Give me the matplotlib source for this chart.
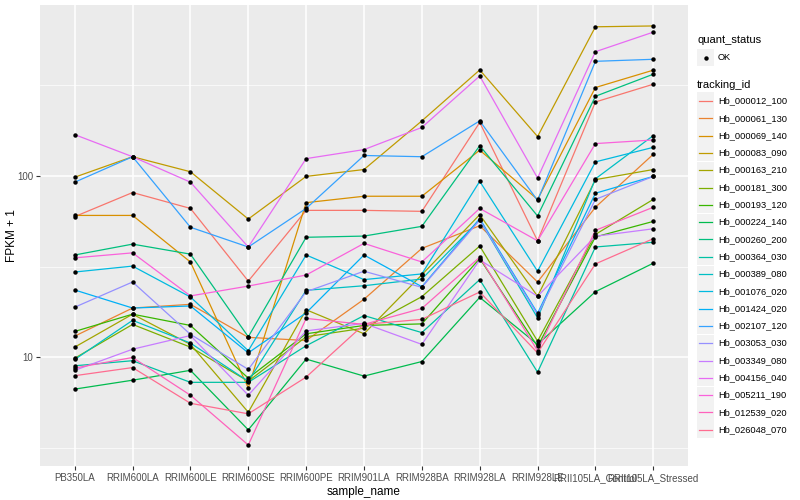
import numpy as np
import matplotlib
matplotlib.use('Agg')
import matplotlib.pyplot as plt
from matplotlib.patches import Rectangle
from matplotlib.lines import Line2D

plt.rcParams['font.family'] = ['Liberation Sans', 'DejaVu Sans']

# samples on the x axis
samples = ['PB350LA', 'RRIM600LA', 'RRIM600LE', 'RRIM600SE', 'RRIM600PE', 'RRIM901LA',
           'RRIM928BA', 'RRIM928LA', 'RRIM928LE', 'RRII105LA_Control', 'RRII105LA_Stressed']

tracking_ids = ['Hb_000012_100', 'Hb_000061_130', 'Hb_000069_140', 'Hb_000083_090', 'Hb_000163_210',
                'Hb_000181_300', 'Hb_000193_120', 'Hb_000224_140', 'Hb_000260_200', 'Hb_000364_030',
                'Hb_000389_080', 'Hb_001076_020', 'Hb_001424_020', 'Hb_002107_120', 'Hb_003053_030',
                'Hb_003349_080', 'Hb_004156_040', 'Hb_005211_190', 'Hb_012539_020', 'Hb_026048_070']

# ggplot default hue palette for 20 levels
colors = ['#F8766D', '#EA8331', '#D89000', '#C09B00', '#A3A500', '#7CAE00', '#39B600', '#00BB4E',
          '#00BF7D', '#00C1A3', '#00BFC4', '#00BAE0', '#00B0F6', '#35A2FF', '#9590FF', '#C77CFF',
          '#E76BF3', '#FA62DB', '#FF62BC', '#FF6C90']

# FPKM + 1 per gene (rows follow tracking_ids, columns follow samples)
fpkm = [
    [59.5, 80.7, 66.0, 26.3, 64.4, 64.4, 63.6, 196, 43.8, 254, 318],
    [13.1, 18.7, 19.6, 12.9, 12.4, 20.9, 39.8, 53.0, 26.0, 67.0, 131],
    [60.4, 60.4, 33.5, 6.8, 71.0, 77.0, 77.0, 138, 74.0, 305, 380],
    [98.0, 127, 105, 57.7, 99.0, 108, 200, 381, 164, 658, 665],
    [11.4, 17.3, 11.8, 5.0, 18.3, 13.5, 28.5, 61.0, 21.7, 95.0, 108],
    [9.9, 15.2, 11.4, 7.4, 13.0, 14.5, 21.6, 41.0, 12.3, 47.5, 74.0],
    [13.9, 17.3, 15.0, 7.7, 13.5, 15.0, 15.3, 35.0, 11.5, 46.0, 56.0],
    [6.7, 7.5, 8.5, 4.0, 9.8, 7.9, 9.5, 21.4, 11.8, 23.0, 33.0],
    [36.6, 42.0, 37.0, 13.0, 45.8, 46.5, 52.6, 146, 60.0, 273, 361],
    [9.0, 9.6, 7.3, 7.3, 11.6, 17.0, 13.7, 26.8, 8.3, 40.5, 43.0],
    [9.75, 16.0, 12.0, 7.4, 23.4, 24.8, 27.0, 57.0, 16.5, 96.0, 166],
    [29.5, 31.8, 21.5, 10.9, 36.6, 26.8, 28.8, 93.0, 29.8, 119, 143],
    [23.5, 18.7, 19.2, 10.6, 17.6, 36.6, 24.5, 58.0, 17.5, 80.0, 99.0],
    [92.0, 127, 52.0, 40.5, 66.0, 129, 127, 200, 73.0, 425, 436],
    [18.9, 26.0, 13.4, 8.6, 23.0, 29.8, 24.3, 57.0, 17.2, 74.0, 99.0],
    [8.5, 11.1, 13.2, 6.2, 14.0, 15.4, 11.8, 34.4, 21.7, 46.4, 51.0],
    [168, 127, 92.0, 40.5, 124, 139, 184, 353, 97.0, 480, 615],
    [35.3, 37.6, 21.8, 24.7, 28.4, 42.4, 33.5, 66.0, 43.8, 150, 157],
    [8.75, 10.0, 6.2, 3.3, 16.4, 15.2, 18.6, 35.6, 10.9, 50.0, 67.0],
    [7.94, 8.8, 5.6, 4.9, 7.8, 15.2, 16.2, 22.9, 10.6, 32.7, 45.0],
]

fig = plt.figure(figsize=(8, 5), dpi=100)
ax = fig.add_axes([0.05, 0.068, 0.81, 0.922])
ax.set_facecolor('#EBEBEB')

x = np.arange(len(samples))
for vals, col in zip(fpkm, colors):
    ax.plot(x, vals, color=col, lw=0.9, zorder=2)
for vals in fpkm:
    ax.plot(x, vals, 'o', color='black', ms=3.2, zorder=3, markeredgewidth=0)

ax.set_yscale('log')
lo, hi = np.log10(np.min(fpkm)), np.log10(np.max(fpkm))
pad = (hi - lo) * 0.05
ax.set_ylim(10 ** (lo - pad), 10 ** (hi + pad))
ax.set_xlim(-0.6, len(samples) - 0.4)

ax.set_yticks([10, 100])
ax.set_yticklabels(['10', '100'])
ax.yaxis.set_minor_locator(matplotlib.ticker.FixedLocator([10 ** 0.5, 10 ** 1.5, 10 ** 2.5]))
ax.yaxis.set_minor_formatter(matplotlib.ticker.NullFormatter())
ax.set_xticks(x)
ax.set_xticklabels(samples)

ax.grid(True, which='major', color='white', lw=1.1, zorder=0)
ax.grid(True, which='minor', axis='y', color='white', lw=0.5, zorder=0)
ax.set_axisbelow(True)
for s in ax.spines.values():
    s.set_visible(False)
ax.tick_params(axis='both', which='major', length=3, color='#333333', labelsize=7, labelcolor='#4D4D4D', pad=2)
ax.tick_params(axis='y', which='minor', length=0)

ax.set_xlabel('sample_name', fontsize=8.5, labelpad=2)
ax.set_ylabel('FPKM + 1', fontsize=8.5)
ax.yaxis.set_label_coords(-0.034, 0.5)

# legends drawn in figure pixels
W, H = 800, 500
def fx(px):
    return px / W
def fy(py):
    return 1 - py / H

fig.text(fx(697), fy(40), 'quant_status', fontsize=8, va='center', ha='left')
fig.patches.append(Rectangle((fx(697), fy(66)), 17 / W, 17 / H, transform=fig.transFigure,
                             facecolor='#F2F2F2', edgecolor='none'))
fig.lines.append(Line2D([fx(705.5)], [fy(57.5)], transform=fig.transFigure, marker='o',
                        color='black', ms=3.2, markeredgewidth=0))
fig.text(fx(718), fy(57.5), 'OK', fontsize=6.7, va='center', ha='left')

fig.text(fx(697), fy(85), 'tracking_id', fontsize=8, va='center', ha='left')
step = 17.3
for i, (tid, col) in enumerate(zip(tracking_ids, colors)):
    cy = 101 + i * step
    fig.patches.append(Rectangle((fx(697), fy(cy + 8.5)), 17 / W, 17 / H, transform=fig.transFigure,
                                 facecolor='#F2F2F2', edgecolor='none'))
    fig.lines.append(Line2D([fx(699), fx(712)], [fy(cy), fy(cy)], transform=fig.transFigure,
                            color=col, lw=0.9))
    fig.text(fx(718), fy(cy), tid, fontsize=6.7, va='center', ha='left')

fig.savefig('out.png', dpi=100, facecolor='white')
